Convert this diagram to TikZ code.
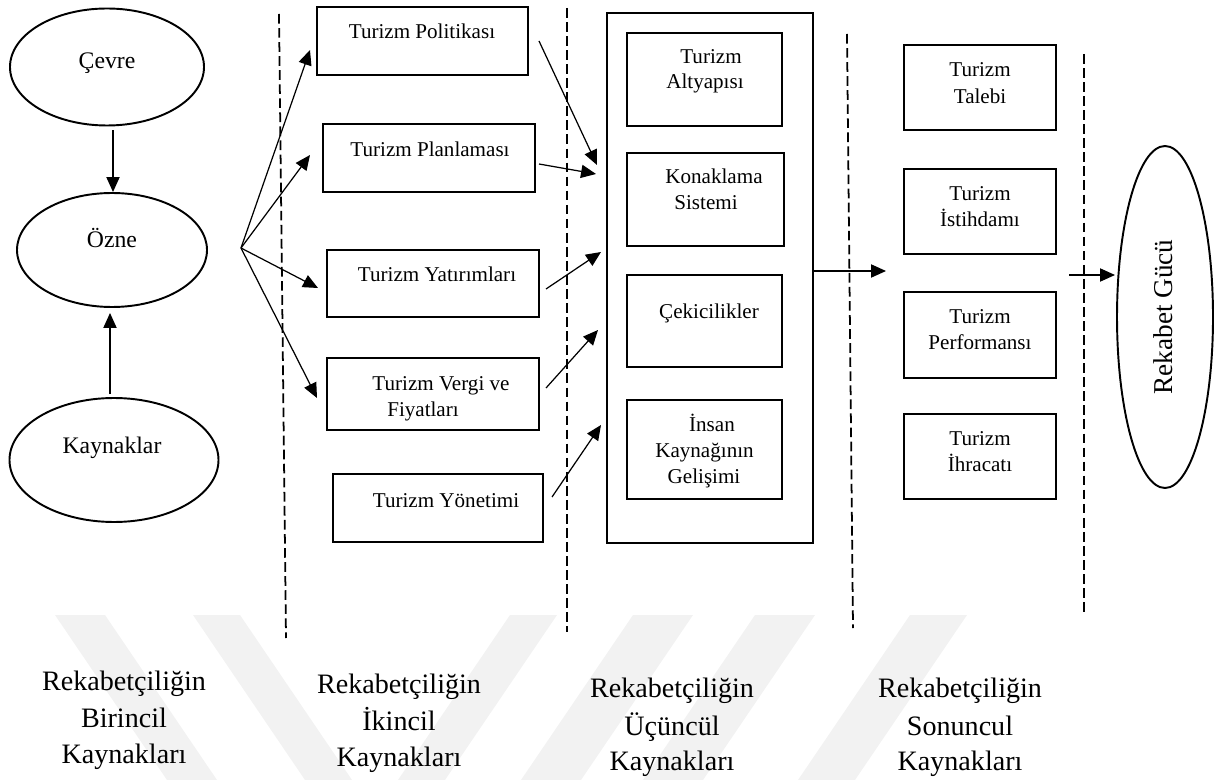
\documentclass[tikz,border=0pt]{standalone}
\usepackage{fontspec}
\setmainfont{Liberation Serif}
\usetikzlibrary{shapes.geometric,arrows.meta,calc}

\begin{document}
\begin{tikzpicture}[x=0.02cm,y=-0.02cm,
  sz/.style 2 args={minimum width=#1*0.02cm, minimum height=#2*0.02cm},
  boxnode/.style={draw, line width=1.3pt, rectangle, inner sep=0pt, outer sep=0pt},
  oval/.style={draw, line width=1.1pt, ellipse, inner sep=0pt, outer sep=0pt},
  txt/.style={font=\fontsize{12}{14}\selectfont, inner sep=0pt, anchor=base},
  otxt/.style={font=\fontsize{13.5}{16}\selectfont, inner sep=0pt, anchor=base},
  ltxt/.style={font=\fontsize{16}{20}\selectfont, inner sep=0pt, anchor=base},
  arr/.style={line width=0.7pt, -{Triangle[length=8.5pt, width=7.5pt]}},
  sep/.style={line width=1pt, dash pattern=on 5.5pt off 2.5pt},
  mark band/.style={fill=black!5, draw=none}
]
\useasboundingbox (0,0) rectangle (1216,780);

% faint background bands
\fill[mark band] (55,615) -- (105,615) -- (217,780) -- (167,780) -- cycle;
\fill[mark band] (193,615) -- (240,615) -- (352,780) -- (305,780) -- cycle;
\fill[mark band] (510,615) -- (557,615) -- (445,780) -- (398,780) -- cycle;
\fill[mark band] (633,615) -- (693,615) -- (581,780) -- (521,780) -- cycle;
\fill[mark band] (755,615) -- (815,615) -- (703,780) -- (643,780) -- cycle;
\fill[mark band] (910,615) -- (967,615) -- (855,780) -- (798,780) -- cycle;

% column separators
\draw[sep] (279,14) -- (286,638);
\draw[sep] (567,8) -- (567,632);
\draw[sep] (847,34) -- (853,628);
\draw[sep] (1084,54) -- (1084,615);

% primary sources
\node[oval, sz={194}{117}] (cevre) at (107,67) {};
\node[otxt] (cevre-t) at (107,69) {Çevre};
\node[oval, sz={190}{114}] (ozne) at (112,250) {};
\node[otxt] (ozne-t) at (112,248) {Özne};
\node[oval, sz={209}{124}] (kay) at (114,460) {};
\node[otxt] (kay-t) at (112,453) {Kaynaklar};

\draw[arr] ($(cevre.south)+(6,5)$) -- ($(ozne.north)+(1,-1)$);
\draw[arr] ($(kay.north)+(-4,-4)$) -- ($(ozne.south)+(-2,6)$);

% secondary sources
\node[boxnode, sz={211}{68}] (pol) at (422.5,41) {};
\node[txt] (pol-t) at (422,39) {Turizm Politikası};
\node[boxnode, sz={212}{68}] (pla) at (429,158) {};
\node[txt] (pla-t) at (430,157) {Turizm Planlaması};
\node[boxnode, sz={212}{67}] (yat) at (433,283.5) {};
\node[txt] (yat-t) at (437,282) {Turizm Yatırımları};
\node[boxnode, sz={212}{72}] (ver) at (433,394) {};
\node[txt] (ver-t1) at (441,390) {Turizm Vergi ve};
\node[txt] (ver-t2) at (423,416) {Fiyatları};
\node[boxnode, sz={210}{68}] (yon) at (438,508) {};
\node[txt] (yon-t) at (446,507) {Turizm Yönetimi};

\coordinate (fan) at (241,248);
\draw[arr] (fan) -- ($(pol.west)+(-7,9)$);
\draw[arr] (fan) -- ($(pla.west)+(-13,-3)$);
\draw[arr] (fan) -- ($(yat.west)+(-9,4.5)$);
\draw[arr] (fan) -- ($(ver.west)+(-10,4)$);

% tertiary sources
\node[boxnode, sz={206}{530}] (big) at (710,278) {};
\node[boxnode, sz={155}{93}] (alt) at (704.5,79.5) {};
\node[txt] (alt-t1) at (711,64) {Turizm};
\node[txt] (alt-t2) at (705,89) {Altyapısı};
\node[boxnode, sz={157}{93}] (kon) at (705.5,199.5) {};
\node[txt] (kon-t1) at (714,184) {Konaklama};
\node[txt] (kon-t2) at (706,210) {Sistemi};
\node[boxnode, sz={155}{92}] (cek) at (704.5,321) {};
\node[txt] (cek-t) at (709,318) {Çekicilikler};
\node[boxnode, sz={155}{99}] (ins) at (704.5,449.5) {};
\node[txt] (ins-t1) at (712,431) {İnsan};
\node[txt] (ins-t2) at (704.5,457) {Kaynağının};
\node[txt] (ins-t3) at (704,483) {Gelişimi};

\draw[arr] ($(pol.east)+(11,0)$) -- ($(big.north west)+(-10,152)$);
\draw[arr] ($(pla.east)+(4,6)$) -- ($(big.north west)+(-11,161)$);
\draw[arr] ($(yat.east)+(7,5.5)$) -- ($(big.north west)+(-6,239)$);
\draw[arr] ($(ver.east)+(7,-6)$) -- ($(big.north west)+(-9,317)$);
\draw[arr] ($(yon.east)+(9,-11)$) -- ($(big.north west)+(-6,412)$);

% final sources
\node[boxnode, sz={152}{85}] (tal) at (980,87.5) {};
\node[txt] (tal-t1) at (980,77) {Turizm};
\node[txt] (tal-t2) at (980,104) {Talebi};
\node[boxnode, sz={152}{85}] (ist) at (980,211.5) {};
\node[txt] (ist-t1) at (980,201) {Turizm};
\node[txt] (ist-t2) at (980,227) {İstihdamı};
\node[boxnode, sz={152}{86}] (per) at (980,335) {};
\node[txt] (per-t1) at (980,323) {Turizm};
\node[txt] (per-t2) at (980,349) {Performansı};
\node[boxnode, sz={152}{85}] (ihr) at (980,456.5) {};
\node[txt] (ihr-t1) at (980,445) {Turizm};
\node[txt] (ihr-t2) at (980,471) {İhracatı};

\coordinate (mid) at (886,271);
\draw[arr] ($(big.east)+(0,-7)$) -- (mid);

% competitive power
\node[oval, sz={96}{342}] (rek) at (1165,317) {};
\node[font=\fontsize{15.5}{18}\selectfont, inner sep=0pt, anchor=base, rotate=90] (rek-t) at (1172,317) {Rekabet Gücü};
\draw[arr] ($(rek.west)+(-48,-42)$) -- ($(rek.west)+(-2,-42)$);

% column captions
\node[ltxt] (c1a) at (124,690) {Rekabetçiliğin};
\node[ltxt] (c1b) at (124,727) {Birincil};
\node[ltxt] (c1c) at (124,763) {Kaynakları};
\node[ltxt] (c2a) at (399,693) {Rekabetçiliğin};
\node[ltxt] (c2b) at (399,730) {İkincil};
\node[ltxt] (c2c) at (399,766) {Kaynakları};
\node[ltxt] (c3a) at (672,697) {Rekabetçiliğin};
\node[ltxt] (c3b) at (672,735) {Üçüncül};
\node[ltxt] (c3c) at (672,770) {Kaynakları};
\node[ltxt] (c4a) at (960,697) {Rekabetçiliğin};
\node[ltxt] (c4b) at (960,735) {Sonuncul};
\node[ltxt] (c4c) at (960,770) {Kaynakları};
\end{tikzpicture}
\end{document}
